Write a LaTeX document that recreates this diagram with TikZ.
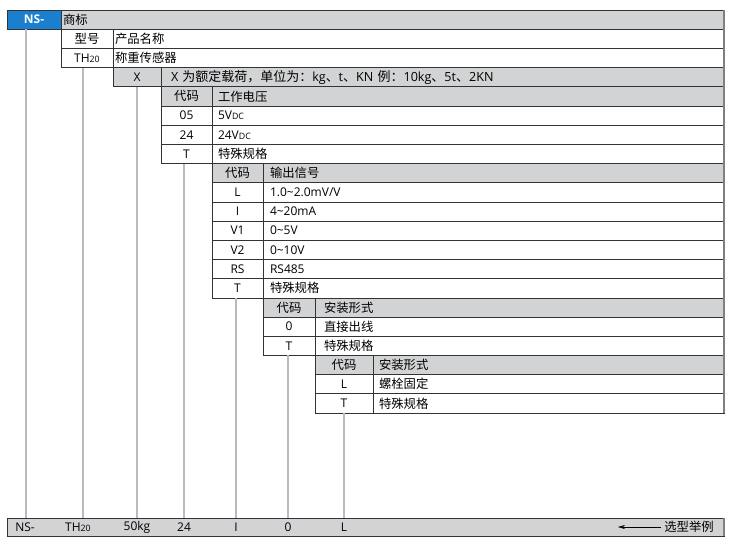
\documentclass[tikz,border=0pt]{standalone}
\usepackage{fontspec}
\setmainfont{Open Sans}
\newfontfamily\cjk[Scale=1.03]{Noto Sans CJK SC}
\usetikzlibrary{positioning,arrows.meta}
\definecolor{hdgray}{HTML}{D2D3D5}
\definecolor{nsblue}{HTML}{1A7FCF}
\definecolor{linkgray}{HTML}{B9B9C1}
\tikzset{
  cell/.style={draw=black!80, line width=0.7pt, anchor=north west, minimum height=19.19pt, inner sep=0pt, outer sep=0pt},
  codecell/.style={cell, align=center},
  desccell/.style={cell, align=left, inner xsep=#1},
  desccell/.default=6pt,
  link/.style={draw=linkgray, line width=1.6pt},
}
\newcommand{\sm}[1]{{\fontsize{8.8}{9}\selectfont #1}}
\newcommand{\zh}[1]{{\cjk #1}}
\begin{document}
\begin{tikzpicture}[x=1pt, y=-1pt, font=\fontsize{12}{13}\selectfont]
  \useasboundingbox (0,0) rectangle (735,550);
  % link ends on the example bar
  \coordinate (l1) at (26,518);
  \coordinate (l2) at (83,518);
  \coordinate (l3) at (137,518);
  \coordinate (l4) at (184,518);
  \coordinate (l5) at (236,518);
  \coordinate (l6) at (288,518);
  \coordinate (l7) at (344,518);

  % trademark
  \node[codecell, fill=nsblue, text=white, font=\bfseries\fontsize{12}{13}\selectfont, minimum width=54pt] (ns) at (7,10) {NS-};
  \node[desccell=2pt, fill=hdgray, text width=659pt] (nsd) at (61,10) {\zh{商标}};

  % model
  \foreach \c/\d [count=\i from 0] in {\zh{型号}/\zh{产品名称}, {TH\sm{20}}/\zh{称重传感器}} {
    \node[codecell, fill=white, minimum width=52pt] (m\i) at (61,{29.19+19.19*\i}) {\c};
    \node[desccell=2pt, fill=white, text width=607pt] (m\i d) at (113,{29.19+19.19*\i}) {\d};
  }

  % capacity
  \node[codecell, fill=hdgray, minimum width=48pt] (cap) at (113,67.57) {X};
  \node[desccell=10pt, fill=hdgray, text width=543pt, font=\fontsize{12.6}{13}\selectfont] (capd) at (161,67.57) {X \zh{为额定载荷，单位为：}kg\zh{、}t\zh{、}KN \zh{例：}10kg\zh{、}5t\zh{、}2KN};

  % voltage
  \node[codecell, fill=hdgray, minimum width=51pt] (v0) at (161,86.76) {\zh{代码}};
  \node[desccell, fill=hdgray, text width=500pt] (v0d) at (212,86.76) {\zh{工作电压}};
  \foreach \c/\d [count=\i] in {05/{5V\sm{DC}}, 24/{24V\sm{DC}}, T/\zh{特殊规格}} {
    \node[codecell, fill=white, minimum width=51pt] (v\i) at (161,{86.76+19.19*\i}) {\c};
    \node[desccell, fill=white, text width=500pt] (v\i d) at (212,{86.76+19.19*\i}) {\d};
  }

  % signal
  \node[codecell, fill=hdgray, minimum width=51pt] (s0) at (212,163.52) {\zh{代码}};
  \node[desccell=7pt, fill=hdgray, text width=447pt] (s0d) at (263,163.52) {\zh{输出信号}};
  \foreach \c/\d [count=\i] in {L/{1.0\textasciitilde2.0mV/V}, I/{4\textasciitilde20mA}, V1/{0\textasciitilde5V}, V2/{0\textasciitilde10V}, RS/RS485, T/\zh{特殊规格}} {
    \node[codecell, fill=white, minimum width=51pt] (s\i) at (212,{163.52+19.19*\i}) {\c};
    \node[desccell=7pt, fill=white, text width=447pt] (s\i d) at (263,{163.52+19.19*\i}) {\d};
  }

  % outlet
  \node[codecell, fill=hdgray, minimum width=52pt] (f0) at (263,297.85) {\zh{代码}};
  \node[desccell=9pt, fill=hdgray, text width=391pt] (f0d) at (315,297.85) {\zh{安装形式}};
  \foreach \c/\d [count=\i] in {0/\zh{直接出线}, T/\zh{特殊规格}} {
    \node[codecell, fill=white, minimum width=52pt] (f\i) at (263,{297.85+19.19*\i}) {\c};
    \node[desccell=9pt, fill=white, text width=391pt] (f\i d) at (315,{297.85+19.19*\i}) {\d};
  }

  % mounting
  \node[codecell, fill=hdgray, minimum width=58pt] (g0) at (315,355.42) {\zh{代码}};
  \node[desccell, fill=hdgray, text width=339pt] (g0d) at (373,355.42) {\zh{安装形式}};
  \foreach \c/\d [count=\i] in {L/\zh{螺栓固定}, T/\zh{特殊规格}} {
    \node[codecell, fill=white, minimum width=58pt] (g\i) at (315,{355.42+19.19*\i}) {\c};
    \node[desccell, fill=white, text width=339pt] (g\i d) at (373,{355.42+19.19*\i}) {\d};
  }

  \draw[gray, line width=1.4pt] (nsd.north east) -- (g2d.south east);

  % example bar
  \node[cell, fill=hdgray, minimum width=717pt, minimum height=18pt] (bar) at (7,518) {};
  \draw[gray, line width=1.4pt] (bar.north east) -- (bar.south east);
  \node (e1) at (25,527) {NS-};
  \node (e2) at (78,527) {TH\sm{20}};
  \node (e3) at (137,527) {50kg};
  \node (e4) at (184,527) {24};
  \node (e5) at (236,527) {I};
  \node (e6) at (288,527) {0};
  \node (e7) at (344,527) {L};
  \node (eg) at (689,527) {\zh{选型举例}};
  \coordinate (tip) at (618,527);
  \draw[-{Stealth[length=7pt,width=4pt]}] (eg.west) -- (tip);

  \draw[link] (ns.south -| l1) -- (l1);
  \draw[link] (m1.south -| l2) -- (l2);
  \draw[link] (cap.south -| l3) -- (l3);
  \draw[link] (v3.south -| l4) -- (l4);
  \draw[link] (s6.south -| l5) -- (l5);
  \draw[link] (f2.south -| l6) -- (l6);
  \draw[link] (g2.south -| l7) -- (l7);
\end{tikzpicture}
\end{document}
